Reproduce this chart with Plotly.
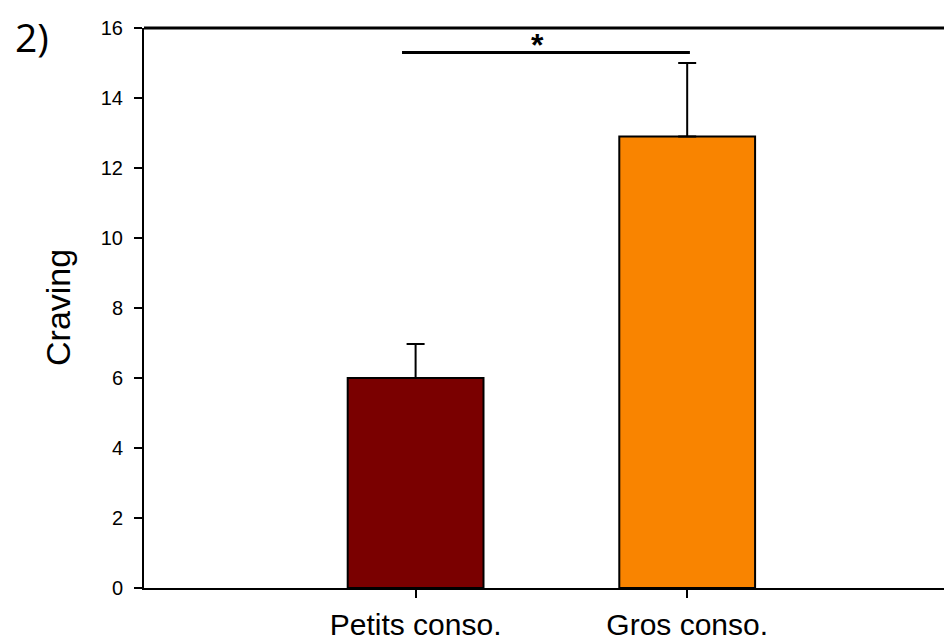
import plotly.graph_objects as go

categories = ["Petits conso.", "Gros conso."]
means = [6.0, 12.9]
errors = [0.97, 2.1]
colors = ["#7A0000", "#F98400"]
y_ticks = [0, 2, 4, 6, 8, 10, 12, 14, 16]
sig_pair = [-0.05, 1.01]
sig_level = 15.3

fig = go.Figure()
fig.add_trace(go.Bar(
    x=categories, y=means, width=0.5,
    marker=dict(color=colors, line=dict(color="black", width=2)),
    error_y=dict(type="data", array=errors, arrayminus=[0, 0], symmetric=False,
                 color="black", thickness=2, width=9),
    showlegend=False,
))

fig.add_shape(type="line", xref="paper", yref="paper", x0=0, x1=1, y0=1, y1=1,
              line=dict(color="black", width=3))
fig.add_shape(type="line", xref="x", yref="y", x0=sig_pair[0], x1=sig_pair[1],
              y0=sig_level, y1=sig_level, line=dict(color="black", width=3))
fig.add_annotation(x=0.45, y=sig_level, xref="x", yref="y", text="<b>*</b>",
                   showarrow=False, yanchor="bottom", yshift=-12,
                   font=dict(size=32, color="black", family="Liberation Sans"))
fig.add_annotation(x=0, y=0.5, xref="paper", yref="paper", text="Craving",
                   textangle=-90, showarrow=False, xanchor="center", yanchor="middle",
                   xshift=-86, font=dict(size=34, color="black", family="Liberation Sans"))
fig.add_annotation(x=0, y=1, xref="paper", yref="paper", text="2)",
                   showarrow=False, xanchor="left", yanchor="top",
                   xshift=-131, yshift=20, font=dict(size=39, color="black", family="Open Sans"))

fig.update_layout(
    width=944, height=633,
    margin=dict(l=136, r=0, t=20, b=53),
    paper_bgcolor="white", plot_bgcolor="white",
    font=dict(family="Liberation Sans", color="black"),
    xaxis=dict(type="category", range=[-1, 1.975], showline=True, linecolor="black",
               linewidth=2, ticks="outside", ticklen=8, tickwidth=2, tickcolor="black",
               showgrid=False, zeroline=False, tickfont=dict(size=30),
               ticklabelstandoff=1, automargin=False),
    yaxis=dict(range=[0, 16], tickvals=y_ticks, showline=True, linecolor="black",
               linewidth=2, ticks="outside", ticklen=8, tickwidth=2, tickcolor="black",
               showgrid=False, zeroline=False, tickfont=dict(size=20),
               ticklabelstandoff=7, automargin=False),
)

fig.write_html("out.html")
